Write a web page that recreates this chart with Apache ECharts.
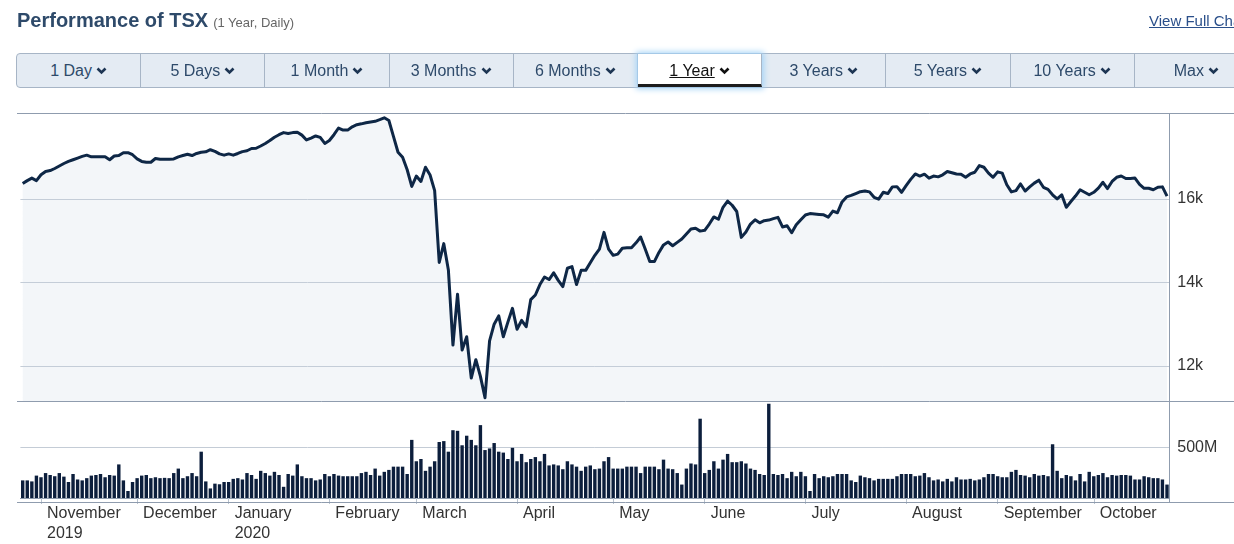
<!DOCTYPE html>
<html><head><meta charset="utf-8">
<script src="https://cdn.jsdelivr.net/npm/echarts@6/dist/echarts.min.js"></script>
<style>
html,body{margin:0;padding:0;background:#fff;overflow:hidden;width:1234px;height:544px;font-family:"Liberation Sans",Arial,sans-serif;}
#chart{position:absolute;left:0;top:0;width:1234px;height:544px;}
#hdr{position:absolute;left:17px;top:8px;white-space:nowrap;line-height:24px;}
#title{font-size:20px;font-weight:bold;color:#2e4a6a;}
#sub{font-size:13px;color:#666;margin-left:5px;}
#link{position:absolute;left:1149px;top:11px;font-size:15px;line-height:20px;color:#2a4f8a;text-decoration:underline;white-space:nowrap;}
#bar{position:absolute;left:16px;top:53px;height:35px;width:1250px;display:flex;box-sizing:border-box;border:1px solid #a7b5c6;border-radius:4px;background:#e4ebf3;}
.b{width:124.2px;flex:none;box-sizing:border-box;border-right:1px solid #a7b5c6;display:flex;align-items:center;justify-content:center;font-size:16px;color:#2e4a6a;padding-top:1px;}
.b svg{margin-left:4px;color:#1d3553}
.b.act{background:#fff;color:#111;border-bottom:3px solid #1c1c1c;box-shadow:0 0 6px 2px #a5d3f6;position:relative;z-index:2;padding-top:3px}
.b.act svg{color:#111}
.b.act span{text-decoration:underline}
</style></head>
<body>
<div id="chart"></div>
<div id="hdr"><span id="title">Performance of TSX</span><span id="sub">(1 Year, Daily)</span></div>
<div id="link">View Full Chart</div>
<div id="bar"></div>
<script>
const ranges = ['1 Day','5 Days','1 Month','3 Months','6 Months','1 Year','3 Years','5 Years','10 Years','Max'];
const activeRange = '1 Year';
const startDate = '2019-10-28';
const endDate = '2020-10-26';
const holidays = ['2019-12-25','2019-12-26','2020-01-01','2020-02-17','2020-04-10','2020-05-18','2020-07-01','2020-08-03','2020-09-07','2020-10-12'];
const monthNames = ['January','February','March','April','May','June','July','August','September','October','November','December'];
const priceTicks = [12000,14000,16000];
const volumeTicks = [500];

const price = [
16370,16440,16500,16440,16580,16660,16680,16730,16790,16850,
16900,16940,16980,17020,17050,17010,17010,17010,17010,16940,
17030,17040,17110,17110,17060,16960,16900,16880,16880,16970,
16950,16950,16950,16960,17010,17040,17070,17040,17090,17120,
17130,17180,17140,17080,17050,17080,17050,17090,17135,17155,
17210,17215,17270,17330,17400,17480,17540,17590,17570,17590,
17600,17530,17415,17460,17510,17475,17330,17400,17540,17700,
17650,17650,17730,17780,17800,17825,17845,17860,17900,17945,
17880,17500,17120,17000,16700,16300,16550,16420,16760,16575,
16200,14480,14930,14300,12500,13720,12380,12700,11710,12150,
11750,11240,12600,13000,13200,12700,13050,13380,12880,13090,
12940,13590,13700,13950,14130,14070,14230,14050,13900,14340,
14380,13950,14290,14290,14470,14650,14800,15200,14800,14650,
14680,14820,14830,14830,14950,15090,14800,14500,14500,14720,
14900,14970,14880,14960,15040,15160,15280,15300,15230,15250,
15400,15570,15515,15800,15950,15850,15700,15080,15210,15400,
15500,15430,15480,15495,15530,15560,15330,15360,15190,15380,
15500,15615,15650,15640,15630,15620,15565,15710,15670,15930,
16050,16085,16130,16175,16192,16170,16040,15995,16160,16130,
16290,16295,16160,16320,16470,16600,16550,16595,16500,16550,
16530,16580,16660,16630,16600,16590,16520,16600,16640,16800,
16760,16620,16520,16650,16620,16340,16170,16200,16360,16190,
16290,16380,16450,16280,16230,16100,16000,16100,15800,15940,
16070,16220,16160,16100,16160,16260,16400,16250,16420,16520,
16550,16490,16490,16500,16350,16256,16256,16220,16280,16290,
16070];

const volume = [
173,173,163,220,204,245,226,214,245,210,
157,236,182,173,195,220,226,236,204,226,
220,330,173,69,157,195,220,226,195,204,
195,198,195,245,289,195,214,245,214,455,
163,94,141,135,157,157,188,195,182,245,
226,188,267,245,220,257,226,110,236,220,
330,214,195,195,173,182,236,214,236,220,
214,214,214,214,245,257,226,289,220,257,
276,308,308,308,236,571,361,383,267,308,
361,550,559,455,666,660,518,612,571,518,
716,471,487,540,455,446,383,493,361,433,
352,383,402,361,433,320,330,320,283,361,
330,308,267,308,320,283,289,361,402,289,
289,289,308,308,308,245,308,308,308,283,
377,289,283,245,132,289,339,330,779,245,
276,361,289,377,433,352,352,361,339,289,
276,236,226,926,236,226,236,195,257,214,
257,214,69,236,195,214,204,214,236,236,
236,173,157,220,204,195,173,188,188,188,
188,214,236,236,236,214,220,245,204,173,
182,163,188,163,204,182,182,188,173,182,
204,236,236,214,204,204,257,276,226,220,
204,236,220,226,214,528,267,195,226,214,
173,236,163,257,214,226,245,204,226,220,
226,226,220,182,182,214,204,195,195,182,
132];

// buttons
const chev = '<svg width="11" height="8" viewBox="0 0 11 8"><polyline points="1.5,1.5 5.5,5.5 9.5,1.5" fill="none" stroke="currentColor" stroke-width="2.6"/></svg>';
document.getElementById('bar').innerHTML = ranges.map(r =>
  '<div class="b' + (r === activeRange ? ' act' : '') + '"><span>' + r + '</span>' + chev + '</div>').join('');

// trading-day calendar
function buildDates() {
  const out = [];
  const d = new Date(startDate + 'T00:00:00Z');
  const end = new Date(endDate + 'T00:00:00Z');
  while (d <= end) {
    const wd = d.getUTCDay();
    const s = d.toISOString().slice(0, 10);
    if (wd !== 0 && wd !== 6 && holidays.indexOf(s) < 0) out.push(s);
    d.setUTCDate(d.getUTCDate() + 1);
  }
  return out;
}
const dates = buildDates();
function isMonthStart(i) { return i > 0 && dates[i].slice(5, 7) !== dates[i - 1].slice(5, 7); }
let firstLabel = -1;
for (let i = 0; i < dates.length; i++) { if (isMonthStart(i)) { firstLabel = i; break; } }
function fmtDate(value, index) {
  const m = +value.slice(5, 7) - 1;
  const showYear = (dates.indexOf(value) === firstLabel) || m === 0;
  return monthNames[m] + (showYear ? '\n' + value.slice(0, 4) : '');
}

const gridColor = '#c4ccd6';
const borderColor = '#8f9cae';
const L = 20.4, R = 64.7;

const chart = echarts.init(document.getElementById('chart'), null, { renderer: 'canvas' });
chart.setOption({
  animation: false,
  textStyle: { fontFamily: 'Liberation Sans, Arial, sans-serif' },
  grid: [
    { left: L, right: R, top: 115.5, height: 285.5 },
    { left: L, right: R, top: 401, height: 101 }
  ],
  xAxis: [
    { type: 'category', gridIndex: 0, data: dates, boundaryGap: true,
      axisLine: { show: false }, axisTick: { show: false }, axisLabel: { show: false }, splitLine: { show: false } },
    { type: 'category', gridIndex: 1, data: dates, boundaryGap: true,
      axisLine: { show: true, lineStyle: { color: borderColor, width: 1 } },
      axisTick: { show: true, alignWithLabel: true, interval: (i) => isMonthStart(i), length: 6, lineStyle: { color: '#b9c3cf', width: 1 } },
      axisLabel: { interval: (i) => isMonthStart(i), formatter: fmtDate, align: 'left', padding: [0, 0, 0, 6],
        margin: 6, fontSize: 16, lineHeight: 20, color: '#333' },
      splitLine: { show: false } }
  ],
  yAxis: [
    { type: 'value', gridIndex: 0, position: 'right', min: 11160, max: 18000, splitNumber: 3,
      axisLine: { show: false }, axisTick: { show: false },
      axisLabel: { fontSize: 16, color: '#333', margin: 8,
        formatter: v => priceTicks.indexOf(v) >= 0 ? (v / 1000) + 'k' : '' },
      splitLine: { show: true, showMinLine: false, showMaxLine: false, lineStyle: { color: gridColor, width: 1 } } },
    { type: 'value', gridIndex: 1, position: 'right', min: 0, max: 953, interval: 500,
      axisLine: { show: false }, axisTick: { show: false },
      axisLabel: { fontSize: 16, color: '#333', margin: 8,
        formatter: v => volumeTicks.indexOf(v) >= 0 ? (v) + 'M' : '' },
      splitLine: { show: true, showMinLine: false, showMaxLine: false, lineStyle: { color: gridColor, width: 1 } } }
  ],
  series: [
    { type: 'line', xAxisIndex: 0, yAxisIndex: 0, data: price, symbol: 'none', smooth: false,
      lineStyle: { color: '#0e2746', width: 3, join: 'round' },
      areaStyle: { color: 'rgba(196,211,228,0.3)', origin: 'start' } },
    { type: 'bar', xAxisIndex: 1, yAxisIndex: 1, data: volume, barWidth: 3.4,
      itemStyle: { color: '#0c1e3c' } }
  ],
  graphic: [
    { type: 'line', silent: true, z: 10, shape: { x1: 17, y1: 113.5, x2: 1234, y2: 113.5 }, style: { stroke: borderColor, lineWidth: 1 } },
    { type: 'line', silent: true, z: 10, shape: { x1: 17, y1: 401.5, x2: 1234, y2: 401.5 }, style: { stroke: borderColor, lineWidth: 1 } },
    { type: 'line', silent: true, z: 10, shape: { x1: 17, y1: 502.5, x2: 1234, y2: 502.5 }, style: { stroke: borderColor, lineWidth: 1 } },
    { type: 'line', silent: true, z: 10, shape: { x1: 1169.5, y1: 113, x2: 1169.5, y2: 502 }, style: { stroke: borderColor, lineWidth: 1 } }
  ]
});
</script>
</body></html>
